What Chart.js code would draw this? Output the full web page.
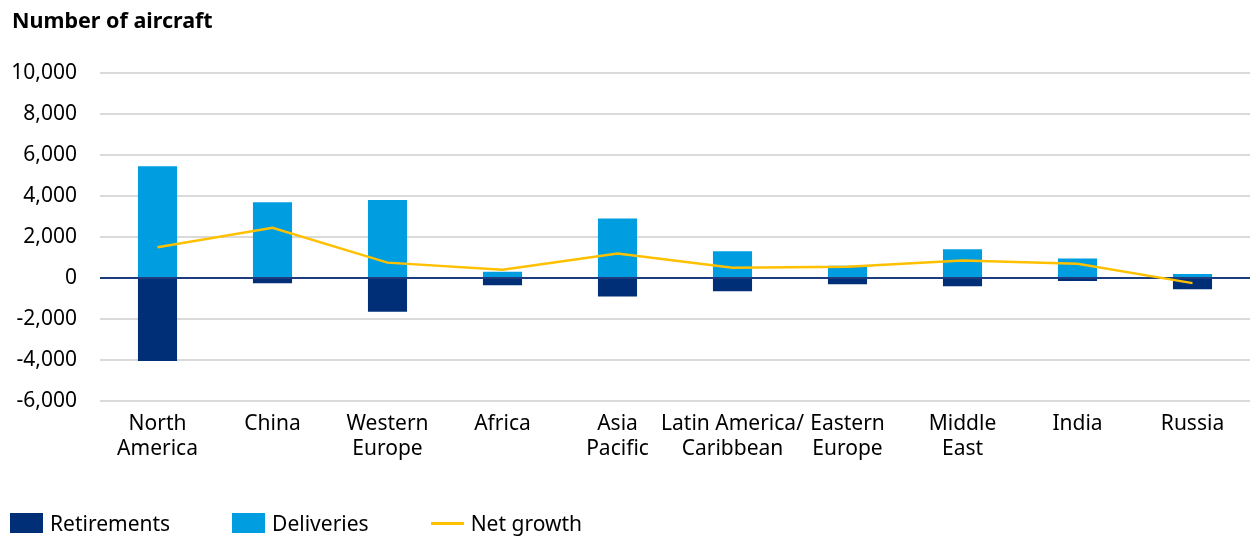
<!DOCTYPE html>
<html>
<head>
<meta charset="utf-8">
<script src="https://cdn.jsdelivr.net/npm/chart.js@4"></script>
<style>
  body { margin: 0; background: #fff; font-family: 'Noto Sans', sans-serif; }
  #wrap { position: relative; width: 1252px; height: 538px; }
  #title { position: absolute; left: 12px; top: 5px; font-size: 21.5px; font-weight: bold; color: #000; }
  #legend { position: absolute; left: 10px; top: 509px; display: flex; font-size: 21px; color: #000; }
  .item { display: flex; align-items: center; margin-right: 62px; }
  .swatch { width: 33px; height: 20px; margin-right: 7px; }
  .lineSwatch { width: 33px; height: 3px; margin-right: 7px; }
</style>
</head>
<body>
<div id="wrap">
  <canvas id="chart" width="1252" height="538"></canvas>
  <div id="title">Number of aircraft</div>
  <div id="legend"></div>
</div>
<script>
const categories = [['North', 'America'], 'China', ['Western', 'Europe'], 'Africa', ['Asia', 'Pacific'],
  ['Latin America/', 'Caribbean'], ['Eastern', 'Europe'], ['Middle', 'East'], 'India', 'Russia'];
const retirements = [-4050, -250, -1650, -350, -900, -650, -300, -400, -150, -550];
const deliveries = [5450, 3700, 3800, 300, 2900, 1300, 600, 1400, 950, 200];
const netGrowth = [1500, 2450, 750, 400, 1200, 500, 550, 850, 700, -250];

const ctx = document.getElementById('chart');
Chart.defaults.font.family = "'Noto Sans', sans-serif";
Chart.defaults.font.size = 21;
Chart.defaults.color = '#000';

var chart = new Chart(ctx, {
    type: 'bar',
    data: {
        labels: categories,
        datasets: [{
            label: 'Retirements',
            data: retirements,
            backgroundColor: '#002f77',
            stack: 'bars',
            order: 1,
            barPercentage: 0.34,
            categoryPercentage: 1
        }, {
            label: 'Deliveries',
            data: deliveries,
            backgroundColor: '#009ee0',
            stack: 'bars',
            order: 1,
            barPercentage: 0.34,
            categoryPercentage: 1
        }, {
            type: 'line',
            label: 'Net growth',
            data: netGrowth,
            borderColor: '#ffc000',
            backgroundColor: '#ffc000',
            borderWidth: 2.5,
            pointRadius: 0,
            stack: 'line',
            order: 0
        }]
    },
    options: {
        responsive: false,
        animation: false,
        layout: { padding: { top: 73, left: 0, right: 2, bottom: 0 } },
        plugins: {
            legend: { display: false },
            tooltip: { enabled: false }
        },
        scales: {
            x: {
                stacked: true,
                grid: { display: false },
                border: { display: false },
                ticks: { padding: 2, maxRotation: 0, autoSkip: false, font: { lineHeight: 1.2 } },
                afterFit: function(scale) { scale.height = 137; }
            },
            y: {
                stacked: true,
                min: -6000,
                max: 10000,
                border: { display: false },
                grid: {
                    drawTicks: false,
                    lineWidth: 2,
                    color: function(c) { return c.tick && c.tick.value === 0 ? '#1d3c7e' : '#dadada'; }
                },
                ticks: { stepSize: 2000, padding: 23 },
                afterFit: function(scale) { scale.width = 100; }
            }
        }
    }
});

// legend built from the chart datasets
const legendEl = document.getElementById('legend');
chart.data.datasets.forEach(function(ds) {
    const item = document.createElement('div');
    item.className = 'item';
    const sw = document.createElement('div');
    sw.className = ds.type === 'line' ? 'lineSwatch' : 'swatch';
    sw.style.background = ds.backgroundColor;
    const txt = document.createElement('span');
    txt.textContent = ds.label;
    item.appendChild(sw);
    item.appendChild(txt);
    legendEl.appendChild(item);
});
</script>
</body>
</html>
